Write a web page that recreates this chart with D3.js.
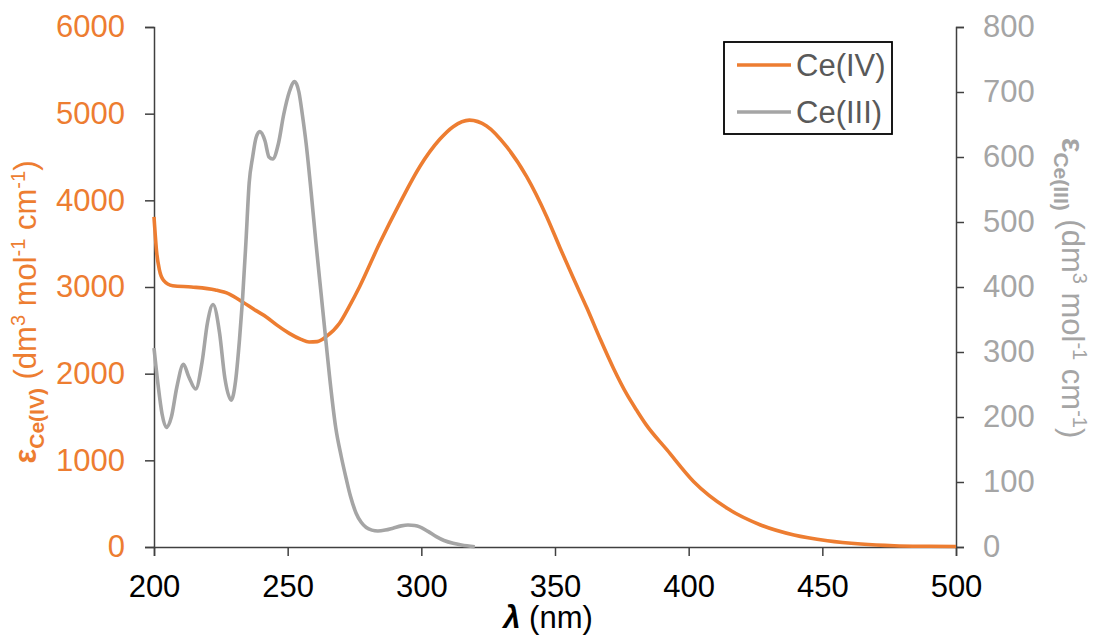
<!DOCTYPE html>
<html>
<head>
<meta charset="utf-8">
<script src="https://d3js.org/d3.v7.min.js"></script>
<style>
  body { margin: 0; background: #fff; }
  text { font-family: "Liberation Sans", Arial, sans-serif; }
</style>
</head>
<body>
<div id="chart"></div>
<script>
// Ce(IV) spectrum (left axis)
var ceIVWave = [200, 201, 202, 203.5, 207, 214, 223, 228, 233, 238, 242, 246, 250.6, 255, 258, 261, 264.4,
  269.4, 273, 276.9, 284.4, 291.9, 299.4, 306.9, 311.9, 318, 324.4, 331.9, 339.4, 346.9, 351.9, 356.9,
  361.9, 366.9, 371.9, 376.9, 380.5, 384, 391.9, 401.9, 414.4, 426.9, 439.4, 451.9, 464.4, 476.9, 490, 500];
var ceIVEps = [3810, 3400, 3200, 3080, 3015, 3000, 2965, 2920, 2830, 2730, 2655, 2560, 2465, 2395, 2365, 2370, 2427,
  2581, 2773, 3003, 3504, 3965, 4388, 4704, 4850, 4925, 4858, 4619, 4273, 3811, 3450, 3100,
  2760, 2400, 2060, 1760, 1580, 1415, 1120, 753, 446, 254, 138, 73, 35, 15, 8, 5];

// Ce(III) spectrum (right axis)
var ceIIIWave = [200, 201.5, 203, 204.6, 206.5, 208.5, 211, 213, 215.6, 218, 220, 222.1, 224.5, 226.5, 228.9,
  230.5, 232, 233.1, 234.4, 235.6, 236.9, 238.2, 239.6, 241.5, 243, 244.4, 246.5, 248.5, 250.6, 252.6,
  254.2, 255.5, 256.9, 258.8, 260.6, 262.5, 264.4, 265.6, 268, 270, 271.9, 273.5, 275.6, 277.5, 279.4,
  281.5, 283.75, 286.5, 289.4, 292.5, 295, 297.5, 299.4, 302.5, 305.6, 308.5, 311.9, 315, 320];
var ceIIIEps = [306, 250, 205, 184, 200, 245, 281, 262, 243, 285, 345, 373, 330, 260, 226,
  255, 320, 380, 470, 560, 600, 630, 639, 625, 600, 597, 620, 665, 700, 716,
  700, 665, 621, 545, 467, 390, 313, 265, 183, 140, 105, 78, 52, 38, 30,
  26, 24.6, 26, 29, 32.5, 33.8, 33, 31, 24, 16, 10, 5.6, 3, 0.5];

var xTicks = [200, 250, 300, 350, 400, 450, 500];
var leftTicks = [0, 1000, 2000, 3000, 4000, 5000, 6000];
var rightTicks = [0, 100, 200, 300, 400, 500, 600, 700, 800];
var seriesNames = ["Ce(IV)", "Ce(III)"];

var orange = "#ED7D31", grey = "#A5A5A5", axisCol = "#404040";

var W = 1093, H = 637;
var margin = {top: 27, right: 137, bottom: 90, left: 154};
var width = W - margin.left - margin.right,
    height = H - margin.top - margin.bottom;

var svg = d3.select("#chart").append("svg")
  .attr("width", W).attr("height", H)
  .append("g")
  .attr("transform", "translate(" + margin.left + "," + margin.top + ")");

var x = d3.scaleLinear().domain([200, 500]).range([0, width]);
var yL = d3.scaleLinear().domain([0, 6000]).range([height, 0]);
var yR = d3.scaleLinear().domain([0, 800]).range([height, 0]);

// axes
var gx = svg.append("g")
  .attr("transform", "translate(0," + height + ")")
  .call(d3.axisBottom(x).tickValues(xTicks).tickSize(9).tickPadding(19).tickFormat(d3.format("d")));
var gl = svg.append("g")
  .call(d3.axisLeft(yL).tickValues(leftTicks).tickSize(9).tickPadding(20).tickFormat(d3.format("d")));
var gr = svg.append("g")
  .attr("transform", "translate(" + width + ",0)")
  .call(d3.axisRight(yR).tickValues(rightTicks).tickSize(8).tickPadding(19).tickFormat(d3.format("d")));

[gx, gl, gr].forEach(function(g) {
  g.select(".domain").attr("stroke", axisCol).attr("stroke-width", 1.5);
  g.selectAll(".tick line").attr("stroke", axisCol).attr("stroke-width", 1.5);
  g.selectAll(".tick text").style("font-size", "31px").attr("font-family", "Liberation Sans, Arial, sans-serif");
});
gx.selectAll(".tick text").attr("fill", "#000");
gl.selectAll(".tick text").attr("fill", orange);
gr.selectAll(".tick text").attr("fill", grey);

// lines
var lineL = d3.line()
  .x(function(d) { return x(d[0]); })
  .y(function(d) { return yL(d[1]); })
  .curve(d3.curveMonotoneX);
var lineR = d3.line()
  .x(function(d) { return x(d[0]); })
  .y(function(d) { return yR(d[1]); })
  .curve(d3.curveMonotoneX);

svg.append("path")
  .datum(d3.zip(ceIVWave, ceIVEps))
  .attr("d", lineL)
  .attr("fill", "none").attr("stroke", orange).attr("stroke-width", 3.6);

svg.append("path")
  .datum(d3.zip(ceIIIWave, ceIIIEps))
  .attr("d", lineR)
  .attr("fill", "none").attr("stroke", grey).attr("stroke-width", 3.6);

// axis titles
function unitsTitle(t, sub) {
  t.append("tspan").attr("font-weight", "bold").text("ε");
  t.append("tspan").attr("font-weight", "bold").attr("dy", 8).style("font-size", "21px").text(sub);
  t.append("tspan").attr("dy", -8).text(" (dm");
  t.append("tspan").attr("dy", -11).style("font-size", "20px").text("3");
  t.append("tspan").attr("dy", 11).text(" mol");
  t.append("tspan").attr("dy", -11).style("font-size", "20px").text("-1");
  t.append("tspan").attr("dy", 11).text(" cm");
  t.append("tspan").attr("dy", -11).style("font-size", "20px").text("-1");
  t.append("tspan").attr("dy", 11).text(")");
}

var tl = svg.append("text")
  .attr("transform", "translate(" + (36 - margin.left) + "," + (312 - margin.top) + ") rotate(-90)")
  .attr("text-anchor", "middle")
  .attr("fill", orange)
  .style("font-size", "31px");
unitsTitle(tl, "Ce(IV)");

var tr = svg.append("text")
  .attr("transform", "translate(" + (1062 - margin.left) + "," + (288 - margin.top) + ") rotate(90)")
  .attr("text-anchor", "middle")
  .attr("fill", grey)
  .style("font-size", "31px");
unitsTitle(tr, "Ce(III)");

var tx = svg.append("text")
  .attr("x", 548 - margin.left).attr("y", 628 - margin.top)
  .attr("text-anchor", "middle")
  .attr("fill", "#000")
  .style("font-size", "31px");
tx.append("tspan").attr("font-weight", "bold").attr("font-style", "italic").text("λ");
tx.append("tspan").text(" (nm)");

// legend
var leg = svg.append("g").attr("transform", "translate(" + (724 - margin.left) + "," + (42 - margin.top) + ")");
leg.append("rect").attr("width", 168).attr("height", 92)
  .attr("fill", "#fff").attr("stroke", "#000").attr("stroke-width", 1.8);
var legCols = [orange, grey];
seriesNames.forEach(function(name, i) {
  var yy = 23 + i * 47;
  leg.append("line").attr("x1", 13).attr("x2", 67).attr("y1", yy).attr("y2", yy)
    .attr("stroke", legCols[i]).attr("stroke-width", 3.6);
  leg.append("text").attr("x", 72).attr("y", yy + 11)
    .attr("fill", "#595959").style("font-size", "31px").text(name);
});
</script>
</body>
</html>
